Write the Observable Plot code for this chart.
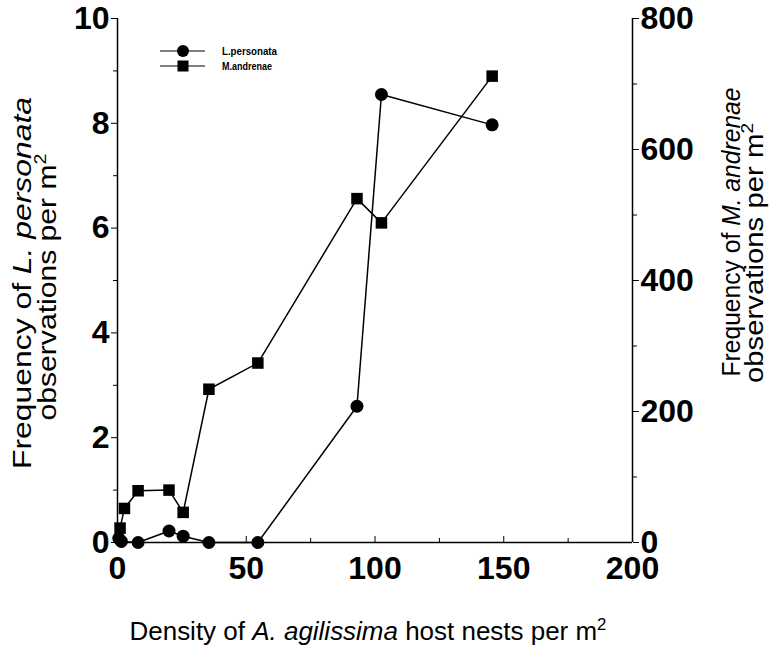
<!DOCTYPE html>
<html>
<head>
<meta charset="utf-8">
<script src="https://cdn.jsdelivr.net/npm/d3@7"></script>
<script src="https://cdn.jsdelivr.net/npm/@observablehq/plot@0.6"></script>
<style>
  html, body { margin: 0; padding: 0; background: #fff; }
  #chart { position: relative; width: 773px; height: 648px; }
</style>
</head>
<body>
<div id="chart"></div>
<script>
// Density of A. agilissima host nests per m2 (x)
const densityL = [0.5, 1.5, 8, 20, 25.5, 35.5, 54.5, 93, 102.5, 145.5];
// L. personata observations per m2 (left axis)
const personata = [0.08, 0.02, 0, 0.22, 0.12, 0, 0, 2.6, 8.55, 7.97];
const densityM = [1, 2.7, 8, 20, 25.5, 35.5, 54.5, 93, 102.5, 145.5];
// M. andrenae observations per m2 (right axis)
const andrenae = [22, 52, 79, 80, 46, 234, 274, 525, 488, 712];

const xTicks = [0, 50, 100, 150, 200];
const xMinor = [25, 75, 125, 175];
const leftTicks = [0, 2, 4, 6, 8, 10];
const leftMinor = [1, 3, 5, 7, 9];
const rightTicks = [0, 200, 400, 600, 800];
const rightMinor = [100, 300, 500, 700];
const ratio = 80; // right axis max 800 maps onto left axis max 10

const L = densityL.map((x, i) => ({x, y: personata[i]}));
const M = densityM.map((x, i) => ({x, y: andrenae[i] / ratio}));

const font = "'Liberation Sans', Arial, sans-serif";

const plot = Plot.plot({
  width: 773,
  height: 648,
  marginLeft: 117,
  marginRight: 141,
  marginTop: 18,
  marginBottom: 106,
  x: {domain: [0, 200]},
  y: {domain: [0, 10]},
  style: {fontFamily: font, fontSize: "32px", fontWeight: "bold", color: "black", background: "white"},
  marks: [
    Plot.ruleY([0], {stroke: "black", strokeWidth: 1.5}),
    Plot.ruleX([0], {stroke: "black", strokeWidth: 1.5}),
    Plot.ruleX([200], {stroke: "black", strokeWidth: 1.5}),
    Plot.axisX(xTicks, {anchor: "bottom", tickSize: -6, tickPadding: 20, label: null, tickFormat: d => d}),
    Plot.axisX(xMinor, {anchor: "bottom", tickSize: -4, tickFormat: () => "", label: null}),
    Plot.axisY(leftTicks, {anchor: "left", tickSize: 6, tickPadding: 2, label: null, tickFormat: d => d}),
    Plot.axisY(leftMinor, {anchor: "left", tickSize: 4, tickFormat: () => "", label: null}),
    Plot.axisY(rightTicks.map(v => v / ratio), {anchor: "right", tickSize: 6, tickPadding: 2, label: null, tickFormat: d => Math.round(d * ratio)}),
    Plot.axisY(rightMinor.map(v => v / ratio), {anchor: "right", tickSize: 4, tickFormat: () => "", label: null}),
    Plot.line(L, {x: "x", y: "y", stroke: "black", strokeWidth: 1.5}),
    Plot.line(M, {x: "x", y: "y", stroke: "black", strokeWidth: 1.5}),
    Plot.dot(L, {x: "x", y: "y", r: 6.5, fill: "black", stroke: "none"}),
    Plot.dot(M, {x: "x", y: "y", r: 6.5, symbol: "square", fill: "black", stroke: "none"})
  ]
});

document.getElementById("chart").appendChild(plot);

const svg = d3.select(plot);
function addLabel(x, y, rotate, parts, size, len) {
  const t = svg.append("text")
    .attr("transform", `translate(${x},${y}) rotate(${rotate})`)
    .attr("text-anchor", "middle")
    .attr("font-family", font)
    .attr("font-size", size)
    .attr("font-weight", "normal")
    .attr("fill", "black")
    .attr("textLength", len)
    .attr("lengthAdjust", "spacingAndGlyphs");
  parts.forEach(p => {
    const s = t.append("tspan").text(p.t);
    if (p.i) s.attr("font-style", "italic");
    if (p.sup) s.attr("font-size", size * 0.65).attr("dy", -size * 0.4);
  });
}
addLabel(368, 640, 0, [{t: "Density of "}, {t: "A. agilissima", i: true}, {t: " host nests per m"}, {t: "2", sup: true}], 26, 477);
addLabel(31, 283, -90, [{t: "Frequency of "}, {t: "L. personata", i: true}], 26, 372);
addLabel(56, 287, -90, [{t: "observations per m"}, {t: "2", sup: true}], 26, 267);
addLabel(740, 232, -90, [{t: "Frequency of "}, {t: "M. andrenae", i: true}], 26, 289);
addLabel(763, 253, -90, [{t: "observations per m"}, {t: "2", sup: true}], 26, 260);

// legend
const lg = svg.append("g").attr("font-family", font).attr("text-anchor", "start");
[["L.personata", "circle", 51, 55], ["M.andrenae", "square", 66, 50]].forEach(([name, sym, y, w]) => {
  lg.append("line").attr("x1", 160).attr("x2", 205).attr("y1", y).attr("y2", y).attr("stroke", "black").attr("stroke-width", 1.2);
  if (sym === "circle") lg.append("circle").attr("cx", 183).attr("cy", y).attr("r", 6).attr("fill", "black");
  else lg.append("rect").attr("x", 177.5).attr("y", y - 5.5).attr("width", 11).attr("height", 11).attr("fill", "black");
  lg.append("text").attr("x", 222).attr("y", y + 3.5).attr("font-size", 10).attr("font-weight", "bold")
    .attr("textLength", w).attr("lengthAdjust", "spacingAndGlyphs").text(name);
});
</script>
</body>
</html>
